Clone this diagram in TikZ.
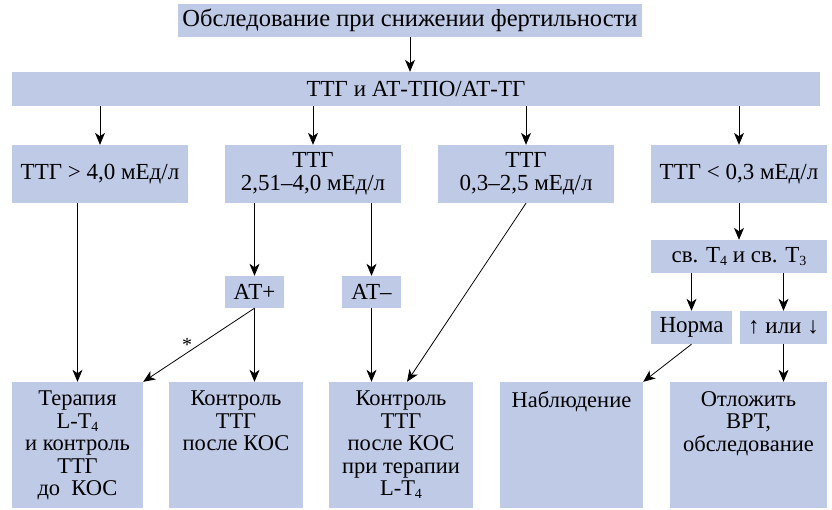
\documentclass[tikz,border=0pt]{standalone}
\usepackage{fontspec}
\setmainfont{Liberation Serif}
\usetikzlibrary{arrows.meta,calc}
\definecolor{boxc}{RGB}{191,202,230}
\newcommand{\lsub}[1]{\raisebox{-0.12em}{\fontsize{14}{14}\selectfont #1}}
\tikzset{
  box/.style={fill=boxc, inner sep=0pt, align=center, font=\fontsize{23}{23}\selectfont},
  conn/.style={line width=0.8pt, -{Stealth[length=12pt,width=10pt,inset=3.5pt]}},
  btxt/.style={anchor=north, inner sep=0pt, align=center, font=\fontsize{22.5}{22.5}\selectfont}
}
\begin{document}
\begin{tikzpicture}[x=1pt,y=-1pt]
\useasboundingbox (0,0) rectangle (832,509);
% top rows
\node[box, minimum width=464pt, minimum height=33pt, font=\fontsize{24.5}{24}\selectfont] (top) at (410,20.5) {Обследование при снижении фертильности};
\node[box, minimum width=808pt, minimum height=34pt] (tsh) at (416,89) {ТТГ и АТ-ТПО/АТ-ТГ};
% row 3
\node[box, minimum width=176pt, minimum height=58pt] (A) at (100,174) {ТТГ > 4,0 мЕд/л};
\node[box, minimum width=176pt, minimum height=58pt] (B) at (313,174) {ТТГ\\2,51–4,0 мЕд/л};
\node[box, minimum width=176pt, minimum height=58pt] (C) at (526,174) {ТТГ\\0,3–2,5 мЕд/л};
\node[box, minimum width=176pt, minimum height=58pt] (D) at (739,174) {ТТГ < 0,3 мЕд/л};
% middle
\node[box, minimum width=59pt, minimum height=32pt] (atp) at (254.5,292) {АТ+};
\node[box, minimum width=59pt, minimum height=32pt] (atm) at (371.5,292) {АТ–};
\node[box, minimum width=176pt, minimum height=33pt] (sv) at (739,256.5) {св. Т\lsub{4} и св. Т\lsub{3}};
\node[box, minimum width=81pt, minimum height=33pt] (norma) at (691.5,327.5) {Норма};
\node[box, minimum width=87pt, minimum height=33pt] (updn) at (783.5,327.5) {↑ или ↓};
% bottom
\node[box, minimum width=131pt, minimum height=126pt] (b1) at (77.5,445) {};
\node[box, minimum width=134pt, minimum height=126pt] (b2) at (236,445) {};
\node[box, minimum width=144pt, minimum height=126pt] (b3) at (401,445) {};
\node[box, minimum width=143pt, minimum height=126pt] (b4) at (571.5,445) {};
\node[box, minimum width=157pt, minimum height=126pt] (b5) at (748.5,445) {};
\node[btxt] (t1) at (77.5,391) {Терапия\\L-T\lsub{4}\\и контроль\\ТТГ\\до~ КОС};
\node[btxt] (t2) at (236,391) {Контроль\\ТТГ\\после КОС};
\node[btxt] (t3) at (401,391) {Контроль\\ТТГ\\после КОС\\при терапии\\L-T\lsub{4}};
\node[btxt] (t4) at (571.5,391) {Наблюдение};
\node[btxt] (t5) at (748.5,391) {Отложить\\ВРТ,\\обследование};
% star
\node[font=\fontsize{20}{20}\selectfont, inner sep=0pt, anchor=base] (star) at (187,351) {*};
% connectors
\draw[conn] (top.south) -- (top.south |- tsh.north);
\draw[conn] (A.north |- tsh.south) -- (A.north);
\draw[conn] (B.north |- tsh.south) -- (B.north);
\draw[conn] (C.north |- tsh.south) -- (C.north);
\draw[conn] (D.north |- tsh.south) -- (D.north);
\draw[conn] (b1.north |- A.south) -- (b1.north);
\draw[conn] (atp.north |- B.south) -- (atp.north);
\draw[conn] (atm.north |- B.south) -- (atm.north);
\draw[conn] (atp.south) -- (b1.north east);
\draw[conn] (atp.south) -- (atp.south |- b2.north);
\draw[conn] (atm.south) -- (atm.south |- b3.north);
\coordinate (b3in) at ($(b3.north)+(6,0)$);
\draw[conn] (C.south) -- (b3in);
\draw[conn] (D.south) -- (sv.north);
\draw[conn] (norma.north |- sv.south) -- (norma.north);
\draw[conn] (updn.north |- sv.south) -- (updn.north);
\draw[conn] (norma.south) -- (b4.north east);
\draw[conn] (updn.south) -- (updn.south |- b5.north);
\end{tikzpicture}
\end{document}
